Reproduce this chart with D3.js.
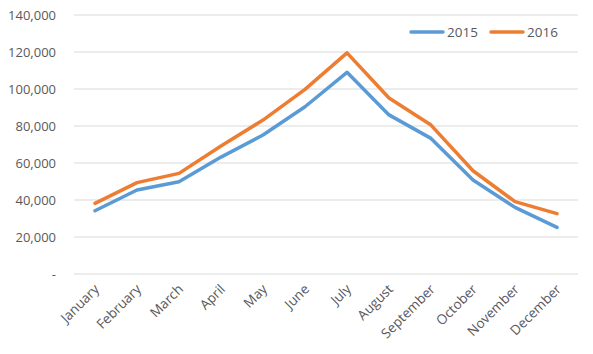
<!DOCTYPE html>
<html>
<head>
<meta charset="utf-8">
<script src="https://cdn.jsdelivr.net/npm/d3@7"></script>
<style>
  body { margin: 0; background: #fff; }
  svg text { font-family: "Open Sans", "Liberation Sans", sans-serif; fill: #595959; }
</style>
</head>
<body>
<div id="chart"></div>
<script>
const months = ["January", "February", "March", "April", "May", "June",
	"July", "August", "September", "October", "November", "December"];
const sales2015 = [34200, 45400, 49900, 63200, 75100, 90400, 109000, 86000, 73300, 50800, 36000, 25200];
const sales2016 = [38200, 49400, 54400, 69200, 83200, 99800, 119500, 95100, 80500, 55800, 39100, 32600];
const yTicks = [0, 20000, 40000, 60000, 80000, 100000, 120000, 140000];

const width = 593, height = 354;
const margin = { top: 15, left: 74, right: 15, bottom: 80 };

const svg = d3.select("#chart").append("svg")
	.attr("width", width)
	.attr("height", height);

const xScale = d3.scaleBand()
	.domain(months)
	.range([margin.left, width - margin.right]);

const yScale = d3.scaleLinear()
	.domain([0, 140000])
	.range([height - margin.bottom, margin.top]);

// gridlines
svg.append("g")
	.selectAll("line")
	.data(yTicks)
	.join("line")
	.attr("x1", margin.left)
	.attr("x2", width - margin.right)
	.attr("y1", d => yScale(d))
	.attr("y2", d => yScale(d))
	.attr("stroke", "#d9d9d9")
	.attr("stroke-width", 1);

// y axis labels
const fmt = d3.format(",");
svg.append("g")
	.selectAll("text")
	.data(yTicks)
	.join("text")
	.attr("x", 56)
	.attr("y", d => yScale(d))
	.attr("dy", "0.35em")
	.attr("text-anchor", "end")
	.style("font-size", "13px")
	.text(d => d === 0 ? "-" : fmt(d));

// x axis labels
svg.append("g")
	.selectAll("text")
	.data(months)
	.join("text")
	.attr("text-anchor", "end")
	.style("font-size", "13.5px")
	.attr("transform", d => `translate(${xScale(d) + xScale.bandwidth() / 2 + 5}, ${yScale(0) + 16}) rotate(-45)`)
	.text(d => d);

const series = [
	{ name: "2015", values: sales2015, color: "#5B9BD5" },
	{ name: "2016", values: sales2016, color: "#ED7D31" },
];

const line = d3.line()
	.x((d, i) => xScale(months[i]) + xScale.bandwidth() / 2)
	.y(d => yScale(d));

svg.append("g")
	.selectAll("path")
	.data(series)
	.join("path")
	.attr("d", d => line(d.values))
	.attr("fill", "none")
	.attr("stroke", d => d.color)
	.attr("stroke-width", 3.5)
	.attr("stroke-linejoin", "round")
	.attr("stroke-linecap", "round");

// legend
const legend = svg.append("g")
	.selectAll("g")
	.data(series)
	.join("g")
	.attr("transform", (d, i) => `translate(${411 + i * 80}, 32)`);
legend.append("line")
	.attr("x1", 0)
	.attr("x2", 32)
	.attr("stroke", d => d.color)
	.attr("stroke-width", 3.5)
	.attr("stroke-linecap", "round");
legend.append("text")
	.attr("x", 36)
	.attr("dy", "0.35em")
	.style("font-size", "13.5px")
	.text(d => d.name);
</script>
</body>
</html>
